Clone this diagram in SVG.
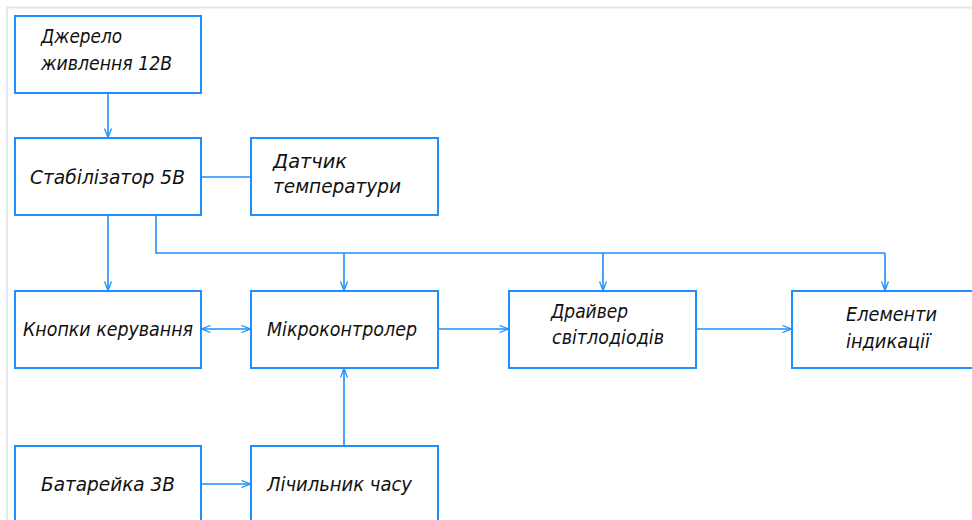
<svg xmlns="http://www.w3.org/2000/svg" width="972" height="520" viewBox="0 0 972 520">
<style>
.frame{fill:none;stroke:#e6e6e6;stroke-width:2}
.box{fill:#fff;stroke:#1e8fff;stroke-width:2}
.ln{fill:none;stroke:#1e8fff;stroke-width:1.6}
.t{font-family:"DejaVu Sans","Liberation Sans",sans-serif;font-weight:200;font-style:oblique;font-size:20px;fill:#111}
</style>
<defs>
<marker id="ah" markerUnits="userSpaceOnUse" viewBox="0 0 10 8" markerWidth="10" markerHeight="8" refX="10" refY="4" orient="auto-start-reverse">
<path d="M0.5,0.5 L9.5,4 L0.5,7.5" fill="none" stroke="#1e8fff" stroke-width="1.3"/>
</marker>
</defs>
<rect width="972" height="520" fill="#fff"/>
<path class="frame" d="M7,520 V7.5 H972"/>
<g id="connectors">
<path class="ln" d="M108,93 V138" marker-end="url(#ah)"/>
<path class="ln" d="M201,177 H251"/>
<path class="ln" d="M108,215 V291" marker-end="url(#ah)"/>
<path class="ln" d="M156,215 V253 H885"/>
<path class="ln" d="M344,253 V291" marker-end="url(#ah)"/>
<path class="ln" d="M603,253 V291" marker-end="url(#ah)"/>
<path class="ln" d="M885,253 V291" marker-end="url(#ah)"/>
<path class="ln" d="M201,329 H251" marker-start="url(#ah)" marker-end="url(#ah)"/>
<path class="ln" d="M438,329 H509" marker-end="url(#ah)"/>
<path class="ln" d="M696,329 H792" marker-end="url(#ah)"/>
<path class="ln" d="M201,484 H251" marker-end="url(#ah)"/>
<path class="ln" d="M344,446 V368" marker-end="url(#ah)"/>
</g>
<g id="dzherelo">
<rect class="box" x="15" y="16" width="186" height="77"/>
<text class="t" x="41" y="43" textLength="81" lengthAdjust="spacingAndGlyphs">Джерело</text>
<text class="t" x="41" y="70" textLength="131" lengthAdjust="spacingAndGlyphs">живлення 12В</text>
</g>
<g id="stabilizator">
<rect class="box" x="15" y="138" width="186" height="77"/>
<text class="t" x="30" y="184" textLength="155" lengthAdjust="spacingAndGlyphs">Стабілізатор 5В</text>
</g>
<g id="datchyk">
<rect class="box" x="251" y="138" width="187" height="77"/>
<text class="t" x="273" y="168" textLength="74" lengthAdjust="spacingAndGlyphs">Датчик</text>
<text class="t" x="273" y="193" textLength="128" lengthAdjust="spacingAndGlyphs">температури</text>
</g>
<g id="knopky">
<rect class="box" x="15" y="291" width="186" height="77"/>
<text class="t" x="23" y="336" textLength="170" lengthAdjust="spacingAndGlyphs">Кнопки керування</text>
</g>
<g id="mikrokontroler">
<rect class="box" x="251" y="291" width="187" height="77"/>
<text class="t" x="267" y="336" textLength="150" lengthAdjust="spacingAndGlyphs">Мікроконтролер</text>
</g>
<g id="drayver">
<rect class="box" x="509" y="291" width="187" height="77"/>
<text class="t" x="551" y="318" textLength="77" lengthAdjust="spacingAndGlyphs">Драйвер</text>
<text class="t" x="552" y="344" textLength="112" lengthAdjust="spacingAndGlyphs">світлодіодів</text>
</g>
<g id="elementy">
<rect class="box" x="792" y="291" width="187" height="77"/>
<text class="t" x="846" y="321" textLength="91" lengthAdjust="spacingAndGlyphs">Елементи</text>
<text class="t" x="846" y="348" textLength="84" lengthAdjust="spacingAndGlyphs">індикації</text>
</g>
<g id="batareyka">
<rect class="box" x="15" y="446" width="186" height="80"/>
<text class="t" x="41" y="491" textLength="134" lengthAdjust="spacingAndGlyphs">Батарейка 3В</text>
</g>
<g id="lichylnyk">
<rect class="box" x="251" y="446" width="187" height="80"/>
<text class="t" x="267" y="491" textLength="145" lengthAdjust="spacingAndGlyphs">Лічильник часу</text>
</g>
</svg>
